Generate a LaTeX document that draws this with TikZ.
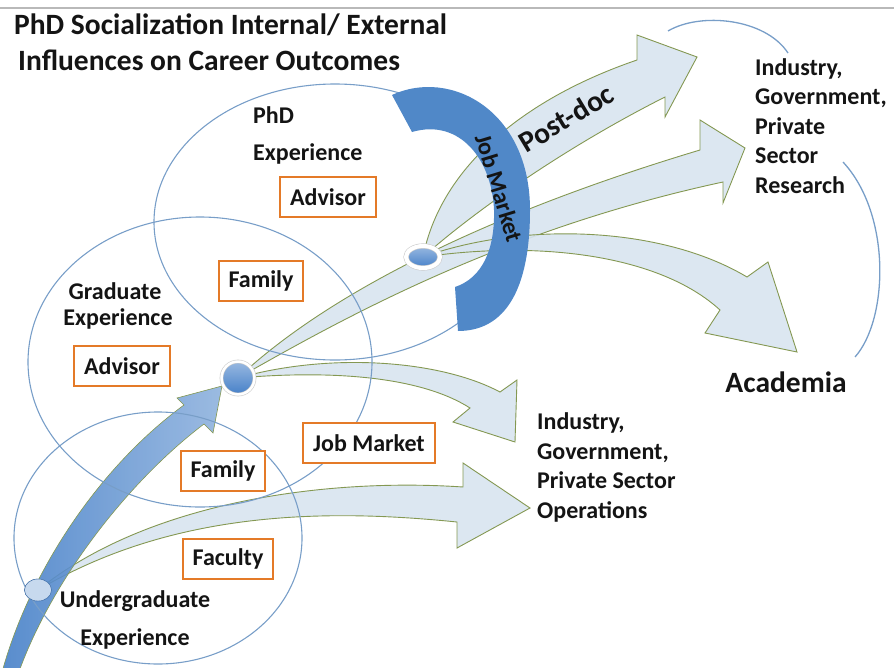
\documentclass[tikz,border=0pt]{standalone}
\usepackage{fontspec}
\setmainfont{Carlito}
\usepackage{tikz}
\usetikzlibrary{shapes.geometric}
\definecolor{ringblue}{RGB}{120,158,200}
\definecolor{boxorange}{RGB}{228,122,40}
\definecolor{flowfill}{RGB}{216,228,240}
\definecolor{flowline}{RGB}{132,152,82}
\definecolor{jobblue}{RGB}{80,136,200}
\definecolor{dotblue}{RGB}{70,128,200}
\definecolor{txt}{RGB}{20,20,20}
\newcommand{\lblfont}{\fontsize{24}{29.5}\selectfont\bfseries}
\newcommand{\bigfont}{\fontsize{29.5}{35}\selectfont\bfseries}

\begin{document}
\begin{tikzpicture}[x=1pt,y=-1pt,
  every node/.style={text=txt},
  ring/.style={draw=ringblue,line width=1.1pt},
  flow/.style={draw=flowline,line width=0.9pt,fill=flowfill,fill opacity=0.9},
  factor/.style={draw=boxorange,line width=2pt,fill=white,inner xsep=10pt,minimum height=40pt,font=\lblfont},
  lbl/.style={font=\lblfont,inner sep=0pt}]
\useasboundingbox (0,0) rectangle (894,667);

% Frame line
\draw[gray!55,line width=1.5pt] (0,8) -- (894,8);

% Dots
\node[ellipse,draw=dotblue!80!black,fill=dotblue!30,minimum width=27pt,minimum height=22pt,inner sep=0pt] (ug) at (38,590) {};
\node[circle,minimum size=33pt,inner sep=0pt] (grad) at (238,378) {};
\node[ellipse,minimum width=40pt,minimum height=28pt,inner sep=0pt] (phd) at (423,257) {};

% Flows out of each stage
\draw[flow] (grad.center) .. controls (310,310) and (450,225) .. (700,150) -- (700,120) -- (745,148) -- (723,203) -- (723,182) .. controls (500,230) and (340,320) .. (grad.center) -- cycle;
\draw[flow] (grad.center) .. controls (330,352) and (440,360) .. (500,392) -- (517,380) -- (515,442) -- (453,422) -- (470,408) .. controls (420,376) and (330,370) .. (grad.center) -- cycle;
\draw[flow] (ug.center) .. controls (150,500) and (330,478) .. (463,487) -- (463,463) -- (530,508) -- (457,548) -- (457,522) .. controls (320,508) and (170,512) .. (ug.center) -- cycle;
\draw[flow] (phd.center) .. controls (440,170) and (520,100) .. (637,60) -- (637,35) -- (697,57) -- (665,117) -- (665,97) .. controls (560,150) and (470,215) .. (phd.center) -- cycle;
\draw[flow] (phd.center) .. controls (520,222) and (660,225) .. (747,277) -- (768,262) -- (797,352) -- (705,333) -- (720,310) .. controls (660,255) and (540,240) .. (phd.center) -- cycle;

% Path up to graduate school
\draw[draw=flowline,line width=0.6pt,left color=dotblue,right color=dotblue!60,fill opacity=0.9]
  (0,680) .. controls (25,580) and (95,470) .. (184,405) -- (177,398) -- (222,386) -- (213,433) -- (204,424)
  .. controls (130,480) and (50,580) .. (16,680) -- cycle;

% Stages
\draw[ring] (335,222) ellipse (181 and 138);
\draw[ring] (200,362) ellipse (172 and 145);
\draw[ring] (158,538) ellipse (144 and 126);

% Job market barrier
\fill[jobblue] (392,95) .. controls (450,68) and (530,110) .. (530,210) .. controls (530,290) and (505,331) .. (458,331)
  -- (455,287) .. controls (482,278) and (495,250) .. (494,210) .. controls (492,160) and (460,118) .. (412,132) -- cycle;
\node[lbl,rotate=-73] (jobarc) at (499,188) {Job Market};
\node[font=\bigfont,inner sep=0pt,rotate=31] (postdoc) at (566,118) {Post-doc};

% Dots on top
\node[ellipse,draw=dotblue!80!black,fill=dotblue!30,minimum width=27pt,minimum height=22pt,inner sep=0pt] at (ug) {};
\node[circle,minimum size=33pt,inner sep=0pt,top color=dotblue!55,bottom color=dotblue,draw=gray!40,double=white,double distance=2.5pt,line width=0.6pt] at (grad) {};
\node[ellipse,minimum width=34pt,minimum height=22pt,inner sep=0pt,top color=dotblue!55,bottom color=dotblue,draw=gray!40,double=white,double distance=4pt,line width=0.6pt] at (phd) {};

% Influences
\node[factor] (phdadv) at (328,197) {Advisor};
\node[factor] (phdfam) at (261,281) {Family};
\node[factor] (gradadv) at (122,366) {Advisor};
\node[factor] (ugfam) at (223,471) {Family};
\node[factor] (jobmkt) at (369,443) {Job Market};
\node[factor] (ugfac) at (228,559) {Faculty};

% Stage names
\node[lbl,anchor=base west] (phdname) at (253,123) {PhD};
\node[lbl,anchor=base west] (phdexp) at (253,160) {Experience};
\node[lbl,anchor=base] (gradname) at (115,299) {Graduate};
\node[lbl,anchor=base] (gradexp) at (118,325) {Experience};
\node[lbl,anchor=base] (ugname) at (135,607) {Undergraduate};
\node[lbl,anchor=base] (ugexp) at (135,645) {Experience};

% Title
\node[font=\bigfont,inner sep=0pt,anchor=base west] (title1) at (14,34) {PhD Socialization Internal/ External};
\node[font=\bigfont,inner sep=0pt,anchor=base west] (title2) at (18,70) {Influences on Career Outcomes};

% Outcomes
\node[lbl,anchor=base west,align=left] (research) at (755,193) {Industry,\\Government,\\Private\\Sector\\Research};
\node[lbl,anchor=base west,align=left] (ops) at (537,518) {Industry,\\Government,\\Private Sector\\Operations};
\node[font=\bigfont,inner sep=0pt,anchor=base] (acad) at (786,392) {Academia};
\draw[ring,line width=1.3pt] (668,31) .. controls (700,12) and (765,18) .. (788,53);
\draw[ring,line width=1.3pt] (843,162) .. controls (892,215) and (888,320) .. (855,357);
\end{tikzpicture}
\end{document}
